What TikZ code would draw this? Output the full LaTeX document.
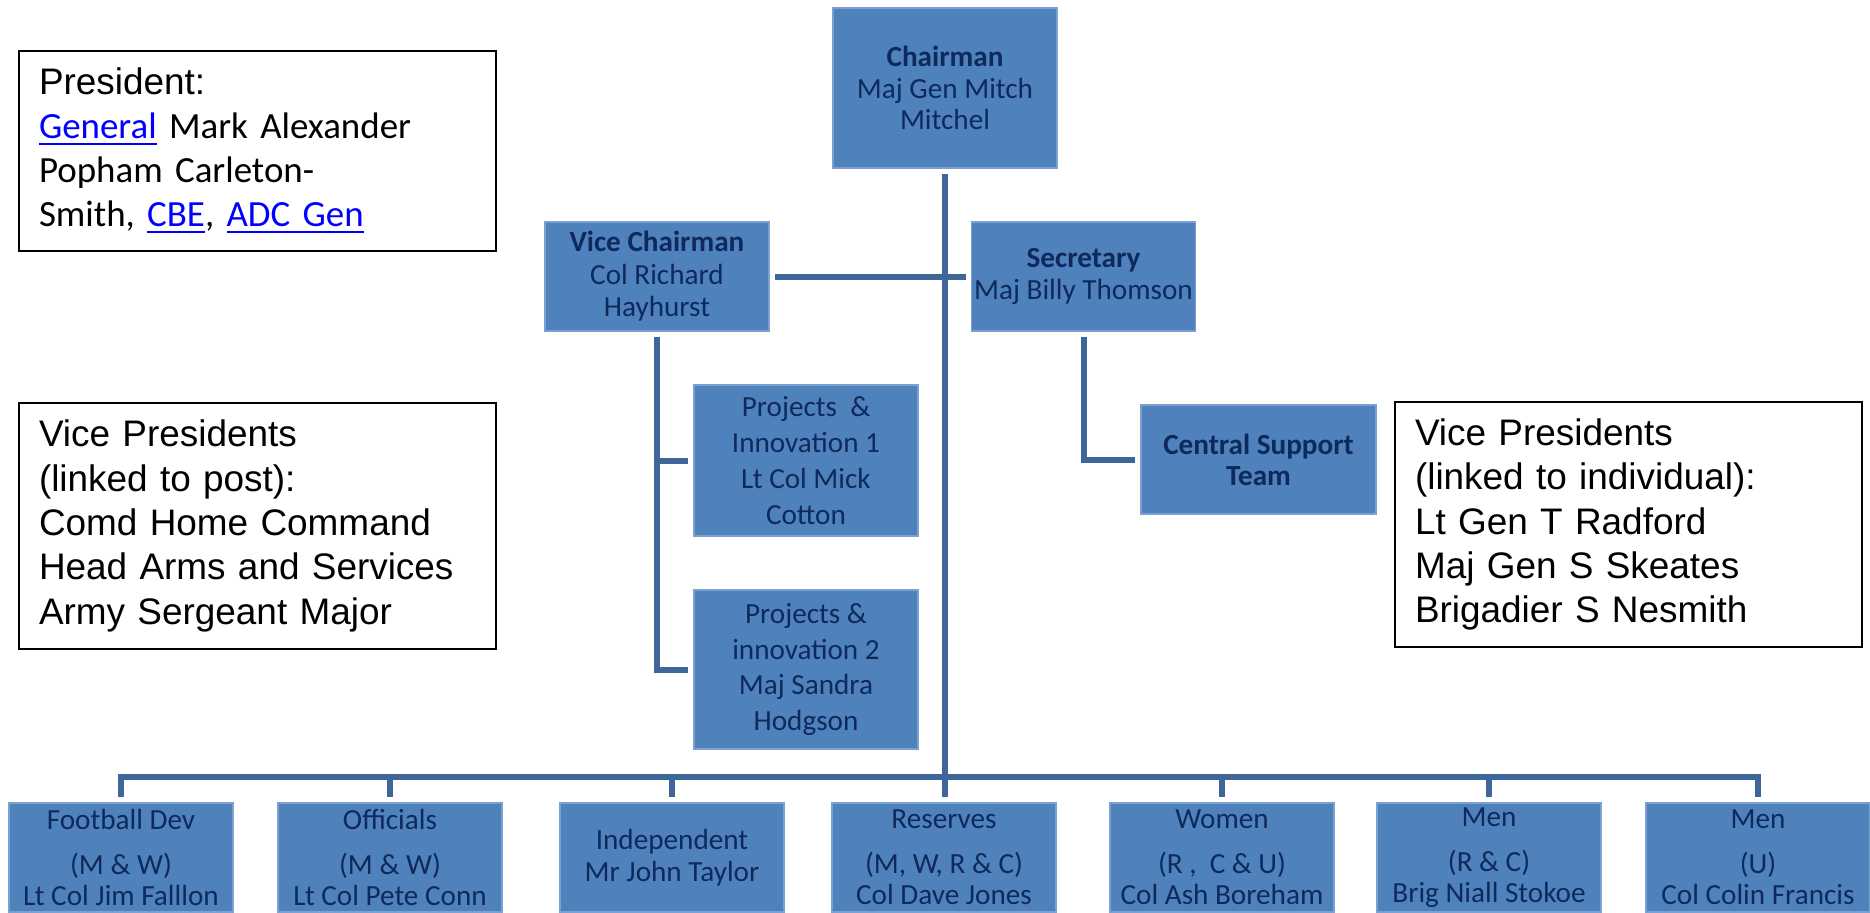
\documentclass[tikz,border=0pt]{standalone}
\usepackage{fontspec}
\usepackage{xcolor}
\usepackage{tikz}
\usetikzlibrary{positioning}
\setmainfont{Carlito}
\newfontfamily\arialfont{Liberation Sans}
\definecolor{boxblue}{HTML}{4F81BD}
\definecolor{boxedge}{HTML}{7BA0D2}
\definecolor{linkline}{HTML}{3E6699}
\definecolor{navy}{HTML}{0E2A5C}
\definecolor{linkblue}{HTML}{0000FF}
\newlength{\gu}
\setlength{\gu}{0.01cm}
\newcommand{\weblink}[1]{\textcolor{linkblue}{\underline{#1}}}
\tikzset{
  post/.style={rectangle, draw=boxedge, line width=0.4pt, fill=boxblue, text=navy,
    align=center, inner sep=0pt, outer sep=1.7pt, minimum width=224\gu,
    font=\fontsize{8.3}{9}\selectfont},
  team/.style={post, minimum height=109\gu, font=\fontsize{8.3}{8.8}\selectfont},
  vpbox/.style={rectangle, draw=black, line width=0.6pt, align=left,
    inner xsep=20\gu, inner ysep=0pt, font=\arialfont\fontsize{10.5}{12.6}\selectfont},
  link/.style={draw=linkline, line width=6\gu}
}

\begin{document}
\begin{tikzpicture}[x=0.01cm, y=-0.01cm]
  \useasboundingbox (0,0) rectangle (1870,912);

  \node[vpbox, minimum width=477\gu, minimum height=200\gu, text width=437\gu,
        font=\fontsize{10.5}{12.5}\selectfont] (president) at (257.5,151)
        {{\arialfont President:}\\\weblink{General} Mark Alexander\\Popham Carleton-\\Smith, \weblink{CBE}, \weblink{ADC Gen}};
  \node[vpbox, minimum width=477\gu, minimum height=246\gu, text width=437\gu] (vppost) at (257.5,526)
        {Vice Presidents\\(linked to post):\\Comd Home Command\\Head Arms and Services\\Army Sergeant Major};
  \node[vpbox, minimum width=467\gu, minimum height=245\gu, text width=427\gu] (vpindiv) at (1628.5,524.5)
        {Vice Presidents\\(linked to individual):\\Lt Gen T Radford\\Maj Gen S Skeates\\Brigadier S Nesmith};

  \node[post, minimum height=160\gu] (chair) at (945,88) {\textbf{Chairman}\\Maj Gen Mitch\\Mitchel};
  \node[post, minimum height=109\gu, font=\fontsize{8.3}{9.25}\selectfont] (vicechair) at (657,276.5)
        {\textbf{Vice Chairman}\\Col Richard\\Hayhurst};
  \node[post, minimum height=109\gu, font=\fontsize{8.3}{9.1}\selectfont] (secretary) at (1083.5,276.5)
        {\textbf{Secretary}\\Maj Billy Thomson};
  \node[post, minimum height=151\gu, font=\fontsize{8.3}{10.2}\selectfont] (proj1) at (806,460.5)
        {Projects~ \&\\Innovation 1\\Lt Col Mick\\Cotton};
  \node[post, minimum height=159\gu, font=\fontsize{8.3}{10.2}\selectfont] (proj2) at (806,669.5)
        {Projects \&\\innovation 2\\Maj Sandra\\Hodgson};
  \node[post, minimum width=235\gu, minimum height=109\gu, font=\fontsize{8.3}{8.8}\selectfont\bfseries] (support) at (1258.5,459.5)
        {Central Support\\Team};

  \node[team] (footdev) at (121,857.5) {Football Dev\\[4pt](M \& W)\\Lt Col Jim Falllon};
  \node[team] (officials) at (390,857.5) {Officials\\[4pt](M \& W)\\Lt Col Pete Conn};
  \node[team, font=\fontsize{8.3}{9.1}\selectfont] (indep) at (672,857.5) {Independent\\Mr John Taylor};
  \node[team] (reserves) at (944,857.5) {Reserves\\[4pt](M, W, R \& C)\\Col Dave Jones};
  \node[team] (women) at (1222,857.5) {Women\\[4pt](R , ~C \& U)\\Col Ash Boreham};
  \node[team] (menrc) at (1489,857.5) {Men\\[4pt](R \& C)\\Brig Niall Stokoe};
  \node[team] (menu) at (1758,857.5) {Men\\[4pt](U)\\Col Colin Francis};

  \coordinate (bus) at (945,776.5);

  \draw[link] (vicechair) -- (secretary);
  \draw[link] (chair.south) -- (chair.south |- reserves.north);
  \draw[link] (vicechair.south) |- (proj2.west);
  \draw[link] (vicechair.south |- proj1.west) -- (proj1.west);
  \draw[link] (secretary.south) |- (support.west);
  \draw[link] (footdev.north) |- (bus) -| (menu.north);
  \foreach \n in {officials,indep,women,menrc}
    \draw[link] (\n.north) -- (\n.north |- bus);
\end{tikzpicture}
\end{document}
